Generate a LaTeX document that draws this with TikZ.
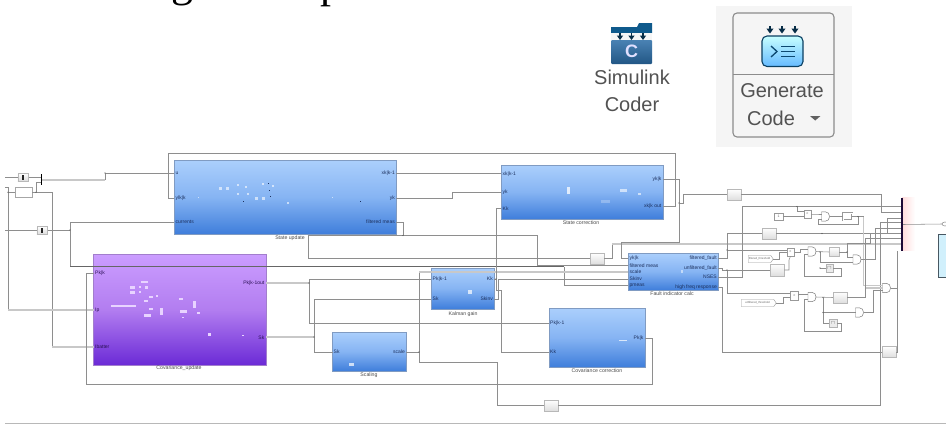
\documentclass[tikz,border=0pt]{standalone}
\usepackage{fontspec}
\setmainfont{Liberation Sans}
\newfontfamily\titlefont{Liberation Serif}
\usetikzlibrary{shapes.symbols,shapes.geometric}
\definecolor{wirec}{HTML}{8E8E8E}
\definecolor{busc}{HTML}{C8C8C8}
\definecolor{navyt}{HTML}{1C2F5C}
\definecolor{blueT}{HTML}{ABCFFC}
\definecolor{blueM}{HTML}{86B4F3}
\definecolor{blueB}{HTML}{3F7EDB}
\definecolor{purpT}{HTML}{CB9DFF}
\definecolor{purpM}{HTML}{B27DF0}
\definecolor{purpB}{HTML}{6B2AD6}
\definecolor{iconB}{HTML}{2A6CA6}
\definecolor{iconD}{HTML}{0F5A8C}
\tikzset{
  wire/.style={draw=wirec,line width=0.55pt},
  bus/.style={draw=busc,line width=1.3pt},
  bblock/.style={rectangle,draw=black!30!blueB!60,line width=0.7pt,top color=blueT,bottom color=blueB,middle color=blueM,inner sep=0pt},
  pblock/.style={rectangle,draw=purpT!80!black,line width=0.5pt,top color=purpT,bottom color=purpB,middle color=purpM,inner sep=0pt},
  captxt/.style={font=\fontsize{5.2}{6}\selectfont,text=black!70,inner sep=0pt},
  pl/.style={anchor=west,font=\fontsize{5}{6}\selectfont,text=navyt,inner sep=0pt},
  pr/.style={anchor=east,font=\fontsize{5}{6}\selectfont,text=navyt,inner sep=0pt},
  gbox/.style={rectangle,draw=black!28,line width=0.5pt,top color=white,bottom color=black!13,inner sep=0pt},
  sbox/.style={rectangle,draw=black!40,line width=0.4pt,fill=white,inner sep=0pt,font=\fontsize{3.5}{4}\selectfont,text=black!60},
  gatebody/.style={draw=black!55,line width=0.45pt,fill=white},
  tagb/.style={signal,signal to=east,signal pointer angle=110,draw=black!40,line width=0.4pt,fill=white,inner sep=0pt,font=\fontsize{2.8}{3}\selectfont,text=black!60},
  icontext/.style={font=\fontsize{20}{22}\selectfont,text=black!68,inner sep=0pt},
}
% AND gate: name, centre x, centre y
\newcommand{\andgate}[3]{%
  \node[inner sep=0pt,minimum width=8pt,minimum height=9.5pt] (#1) at (#2,#3) {};
  \draw[gatebody] (#2-4,#3-4.7) -- (#2,#3-4.7) .. controls (#2+2.6,#3-4.7) and (#2+4,#3-2.5) .. (#2+4,#3) .. controls (#2+4,#3+2.5) and (#2+2.6,#3+4.7) .. (#2,#3+4.7) -- (#2-4,#3+4.7) -- cycle;
  \coordinate (#1-a) at (#2-4,#3-2.5);
  \coordinate (#1-m) at (#2-4,#3);
  \coordinate (#1-b) at (#2-4,#3+2.5);
  \coordinate (#1-o) at (#2+4,#3);
}
\begin{document}
\begin{tikzpicture}[x=1pt,y=-1pt]
\useasboundingbox (0,0) rectangle (946,424);
\clip (0,0) rectangle (946,424);
\fill[white] (0,0) rectangle (946,424);

% clipped title remnants
\node[anchor=base,inner sep=0pt,font=\titlefont\fontsize{44}{44}\selectfont] (tg) at (182,-3.5) {g};
\node[anchor=base,inner sep=0pt,font=\titlefont\fontsize{44}{44}\selectfont] (tp) at (331,-3) {p};

% Simulink Coder icon
\fill[iconD] (611,27) -- (637,27) -- (639,23) -- (652,23) -- (652,33) -- (611,33) -- cycle;
\fill[black!4] (611,33) rectangle (652,40);
\shade[top color=iconB!85,bottom color=iconB!80!black,rounded corners=1pt] (611,40) rectangle (652,64);
\foreach \ax in {620,631.5,643}{
  \fill[iconD!50!black] (\ax-0.9,33) rectangle (\ax+0.9,36);
  \fill[iconD!50!black] (\ax-3.2,35.5) -- (\ax+3.2,35.5) -- (\ax,40) -- cycle;
}
\node[font=\bfseries\fontsize{18}{18}\selectfont,text=white!88!blue,inner sep=0pt] (cc) at (631.5,51.5) {C};
\node[icontext] (simtxt) at (632,77) {Simulink};
\node[icontext] (codertxt) at (632,104) {Coder};

% Generate Code panel
\fill[black!4] (716,6) rectangle (852,147);
\draw[black!45,line width=1.1pt,rounded corners=4pt] (733,13) rectangle (834,137);
\draw[black!45,line width=1pt] (733,74.5) -- (834,74.5);
\foreach \ax in {770,782,795}{
  \fill[iconD!50!black] (\ax-1,26) rectangle (\ax+1,30);
  \fill[iconD!50!black] (\ax-3.6,28.5) -- (\ax+3.6,28.5) -- (\ax,33.5) -- cycle;
}
\shade[top color=cyan!22,bottom color=cyan!55!blue!60,draw=iconD!70!black,line width=1.1pt,rounded corners=5pt] (762,36) rectangle (803,66.5);
\draw[iconD!80!black,line width=1.3pt] (771,46) -- (777,51.5) -- (771,57);
\draw[iconD!80!black,line width=0.9pt] (781,46.5) -- (795,46.5) (781,51.5) -- (795,51.5) (781,56.5) -- (795,56.5);
\node[icontext] (gentxt) at (782,91) {Generate};
\node[icontext] (codetxt) at (771,118) {Code};
\fill[black!62] (810,116) -- (820.5,116) -- (815.2,120.5) -- cycle;

% main blocks
\node[bblock,minimum width=222pt,minimum height=74pt] (su) at (285,197) {};
\node[bblock,minimum width=162pt,minimum height=54pt] (sc) at (582,192) {};
\node[pblock,minimum width=172.5pt,minimum height=110.5pt] (cu) at (179.75,309.75) {};
\node[bblock,minimum width=63pt,minimum height=41pt] (kg) at (462.5,288.5) {};
\node[bblock,minimum width=73.5pt,minimum height=39pt] (sl) at (369.25,351.5) {};
\node[bblock,minimum width=96pt,minimum height=59pt] (cc2) at (597,337.5) {};
\node[bblock,minimum width=90pt,minimum height=37pt] (fi) at (673,271.5) {};

% specks
\foreach \px/\py/\ps in {219/187/3,226/187/3,237/184/1.5,245/186/1.5,237/193/2,247/193/2,255/197/3,262/197/3,262/183/2,272/185/2,287/202/2,198/197/1,332/197/1}
  \fill[white,opacity=.6] (\px,\py) rectangle ++(\ps,\ps);
\foreach \px/\py/\ps in {268/183/.8,269/190/.8,270/196/.8,243/201/.8,360/201/.8}
  \fill[navyt] (\px,\py) rectangle ++(\ps,\ps);
\fill[white,opacity=.75] (567,187) rectangle (570,194);
\fill[white,opacity=.6] (620,189) rectangle (627,192);
\fill[white,opacity=.6] (638,193) rectangle (641,195);
\fill[white,opacity=.25] (601,200) rectangle (610,203);
\foreach \px/\py/\pw/\ph in {111/305/25/1.5,141/281/7/2,130/286/5/3,130/291/5/3,139/286/2/2,139/291/2/2,145/286/3/3,144/300/4/2,149/296/4/2,156/295/2/2,149/308/4/2,160/308/3/7,144/314/7/3,179/298/4/2,193/301/3/7,180/310/7/3,197/312/3/2,182/317/2/1,208/333/3/3,242/335/2/1}
  \fill[white!55!purpT] (\px,\py) rectangle ++(\pw,\ph);
\fill[white,opacity=.7] (349,363) rectangle (354,366);
\fill[white,opacity=.7] (468,290) rectangle (472,294);
\fill[white,opacity=.7] (619,340) rectangle (627,341);
\fill[white,opacity=.5] (681,270) rectangle (683,273);

% captions
\node[captxt] (csu) at (290,238) {State update};
\node[captxt] (csc) at (581,222.5) {State correction};
\node[captxt] (ccu) at (179,368) {Covariance\_update};
\node[captxt] (ckg) at (463,314) {Kalman gain};
\node[captxt] (csl) at (369,375.5) {Scaling};
\node[captxt] (ccc) at (597,371) {Covariance correction};
\node[captxt] (cfi) at (672,294) {Fault indicator calc};

% port labels
\node[pl] (l1) at (175.5,173.5) {u};
\node[pl] (l2) at (175.5,198) {ylk|k};
\node[pl] (l3) at (175.5,222) {currents};
\node[pr] (l4) at (395,173.5) {xk|k-1};
\node[pr] (l5) at (395,198) {yk};
\node[pr] (l6) at (395,222) {filtered meas};
\node[pl] (l7) at (502.5,174.5) {xk|k-1};
\node[pl] (l8) at (502.5,192) {yk};
\node[pl] (l9) at (502.5,208.5) {Kk};
\node[pr] (l10) at (661.5,179) {yk|k};
\node[pr] (l11) at (661.5,206) {xk|k out};
\node[pl,text=purpB!40!black] (l12) at (95,273.5) {Pk|k};
\node[pl,text=purpB!40!black] (l13) at (95,310.5) {Ip};
\node[pl,text=purpB!40!black] (l14) at (95,347) {Ibatter};
\node[pr,text=purpB!40!black] (l15) at (264.5,283) {Pk|k-1out};
\node[pr,text=purpB!40!black] (l16) at (264.5,337.5) {Sk};
\node[pl] (l17) at (432.5,279) {Pk|k-1};
\node[pl] (l18) at (432.5,299) {Sk};
\node[pr] (l19) at (493,279) {Kk};
\node[pr] (l20) at (493,299) {Skinv};
\node[pl] (l21) at (333.5,352) {Sk};
\node[pr] (l22) at (405,352) {scale};
\node[pl] (l23) at (550,323) {Pk|k-1};
\node[pl] (l24) at (550,352) {Kk};
\node[pr] (l25) at (643.5,338) {Pk|k};
\node[pl] (l26) at (629.5,258.5) {yk|k};
\node[pl] (l27) at (629.5,265.5) {filtered meas};
\node[pl] (l28) at (629.5,272) {scale};
\node[pl] (l29) at (629.5,279) {Skinv};
\node[pl] (l30) at (629.5,285.5) {pmeas};
\node[pr] (l31) at (717,258.5) {filtered\_fault};
\node[pr] (l32) at (717,268) {unfiltered\_fault};
\node[pr] (l33) at (717,277) {NSES};
\node[pr] (l34) at (717,287) {high freq response};

% port coordinates
\coordinate (su-u) at (174,173);
\coordinate (su-y) at (174,198);
\coordinate (su-c) at (174,222);
\coordinate (su-x) at (396,173);
\coordinate (su-k) at (396,198);
\coordinate (su-f) at (396,222);
\coordinate (sc-x) at (501,173);
\coordinate (sc-y) at (501,192);
\coordinate (sc-k) at (501,208);
\coordinate (sc-o) at (663,179);
\coordinate (sc-q) at (663,206);
\coordinate (cu-p) at (93.5,273);
\coordinate (cu-i) at (93.5,310);
\coordinate (cu-b) at (93.5,347);
\coordinate (cu-o) at (266,283);
\coordinate (cu-s) at (266,337);
\coordinate (kg-p) at (431,279);
\coordinate (kg-s) at (431,299);
\coordinate (kg-k) at (494,279);
\coordinate (kg-i) at (494,299);
\coordinate (sl-s) at (332.5,352);
\coordinate (sl-o) at (406,352);
\coordinate (cc-p) at (549,323);
\coordinate (cc-k) at (549,352);
\coordinate (cc-o) at (645,338);
\coordinate (fi-y) at (628,258);
\coordinate (fi-f) at (628,265);
\coordinate (fi-s) at (628,272);
\coordinate (fi-i) at (628,279);
\coordinate (fi-m) at (628,285);
\coordinate (fi-1) at (718,258);
\coordinate (fi-2) at (718,268);
\coordinate (fi-3) at (718,277);
\coordinate (fi-4) at (718,287);
\coordinate (inA) at (5,177);
\coordinate (inB) at (5,230);
\coordinate (inC) at (5,187);

% small blocks at the left
\node[gbox,minimum width=10.5pt,minimum height=8pt] (g1) at (23,177) {};
\node[gbox,minimum width=10.5pt,minimum height=8pt] (g2) at (42,230) {};
\fill[black!85] (22,174.5) rectangle (24,179.5);
\fill[black!85] (41,227.5) rectangle (43,232.5);
\node[draw=black!35,fill=white,line width=.5pt,inner sep=0pt,minimum width=17pt,minimum height=10.5pt] (b0) at (23.5,192.3) {};
\node[fill=black,inner sep=0pt,minimum width=1pt,minimum height=11pt] (m1) at (41.5,179) {};

% grey boxes
\node[gbox,minimum width=14pt,minimum height=11pt] (b1) at (597,258.5) {};
\node[gbox,minimum width=14pt,minimum height=11pt] (b2) at (551,405.5) {};
\node[gbox,minimum width=14pt,minimum height=11pt] (b3) at (734,194.5) {};
\node[gbox,minimum width=14pt,minimum height=11pt] (b4) at (769,233.5) {};
\node[gbox,minimum width=14pt,minimum height=12pt] (b5) at (777,270) {};
\node[gbox,minimum width=10pt,minimum height=9pt] (b6) at (834,252) {};
\node[gbox,minimum width=14pt,minimum height=11pt] (b7) at (840,297.5) {};
\node[gbox,minimum width=14pt,minimum height=11pt] (b8) at (889,352) {};

% logic
\node[sbox,minimum width=9pt,minimum height=7pt] (k1) at (778.5,216.5) {1};
\node[sbox,minimum width=7pt,minimum height=8pt] (n1) at (807.5,214) {c};
\node[sbox,minimum width=7pt,minimum height=8pt] (n2) at (790.5,252) {c};
\node[sbox,minimum width=8pt,minimum height=9pt] (n3) at (794.5,295.5) {c};
\node[sbox,minimum width=9pt,minimum height=7pt,double,double distance=.5pt] (d1) at (847.5,216.5) {};
\node[sbox,minimum width=7.5pt,minimum height=8pt,draw=black!30,fill=black!8] (d2) at (829.5,268) {$\sqcap$};
\node[sbox,minimum width=8pt,minimum height=8pt,draw=black!30,fill=black!8] (d3) at (833,323) {$\sqcap$};
\andgate{a1}{825.5}{216.5}
\andgate{a2}{812}{251.5}
\andgate{a3}{857}{259.5}
\andgate{a4}{812}{297}
\andgate{a5}{859.5}{312.5}
\andgate{a6}{886.5}{288}
\node[tagb,minimum width=25pt,minimum height=7pt] (t1) at (759.5,259) {filtered\_threshold};
\node[tagb,minimum width=35pt,minimum height=7pt] (t2) at (757.5,303) {unfiltered\_threshold};

% mux at the right, with its glow
\shade[left color=red!14,right color=white] (902,197) rectangle (915,250);
\node[fill=black!75!purpB,inner sep=0pt,minimum width=1.6pt,minimum height=53pt] (m2) at (902,224.5) {};
\node[ellipse,draw=black!45,fill=white,line width=.5pt,inner sep=0pt,minimum width=6pt,minimum height=4pt] (outp) at (945,224) {};
\node[rectangle,draw=black!70!cyan,fill=cyan!18,line width=1.4pt,inner sep=0pt,minimum width=16pt,minimum height=43pt,anchor=north west] (outb) at (938,234) {};

% wires: left part
\draw[wire] (inA) -- (g1.west);
\draw[wire] (g1.east) -- (m1.west |- g1.east);
\draw[bus] (m1.east |- 0,180) -- (105,180);
\draw[wire] (105,180) -- (105,173) -- (su-u);
\draw[wire] (b0.east) -- (36,192.3) -- (36,182) -- (m1.west |- 0,182);
\draw[wire] (36,192.3) -- (52,192.3) -- (52,347);
\draw[bus] (52,347) -- (cu-b);
\draw[wire] (b0.west) -- (8,192.3);
\draw[wire] (inC) -- (8,187) -- (8,310);
\draw[bus] (8,310) -- (cu-i);
\draw[wire] (inB) -- (g2.west);
\draw[wire] (g2.east) -- (70,230);
\draw[wire] (70,266.5) -- (70,222) -- (su-c);
\draw[wire,draw=black!60] (70,266.5) -- (564,266.5);
\draw[wire] (564,266.5) -- (564,285) -- (fi-m);
\draw[wire] (sc-q) -- (675,206) -- (675,153) -- (168,153) -- (168,198) -- (su-y);
\draw[wire] (su-x) -- (sc-x);
\draw[wire] (su-k) -- (452,198) -- (452,192) -- (sc-y);
\draw[wire] (su-f) -- (403,222) -- (403,235.5);
\draw[wire] (308,235.5) -- (537,235.5) -- (537,265) -- (fi-f);
\draw[wire] (308,235.5) -- (308,258.5) -- (b1.west);
\draw[wire] (b1.east) -- (612,258.5) -- (612,244);
\draw[bus] (612,244) -- (m2.west |- 0,244);
% wires: covariance, scaling, gain
\draw[bus] (cu-o) -- (309,283);
\draw[wire] (309,279) -- (309,323);
\draw[wire] (309,279) -- (kg-p);
\draw[wire] (309,323) -- (cc-p);
\draw[bus] (cu-s) -- (314,337);
\draw[wire] (314,299) -- (314,352) -- (sl-s);
\draw[wire] (314,299) -- (kg-s);
\draw[wire] (sl-o) -- (419,352);
\draw[wire] (419,272) -- (419,362);
\draw[bus] (419,272) -- (fi-s);
\draw[wire] (419,362) -- (497,362) -- (497,405.5) -- (b2.west);
\draw[wire] (b2.east) -- (880,405.5) -- (880,222) -- (m2.west |- 0,222);
\draw[wire] (cu-p) -- (86,273) -- (86,384.5) -- (652,384.5) -- (652,338) -- (cc-o);
\draw[wire] (kg-k) -- (496,279) -- (496,208) -- (sc-k);
\draw[wire] (496,279) -- (496,290) -- (501,290) -- (501,352) -- (cc-k);
\draw[wire] (kg-i) -- (498,299) -- (498,279);
\draw[wire] (498,279) -- (fi-i);
% wires: state correction, fault block
\draw[wire] (sc-o) -- (679,179) -- (679,242) -- (621.5,242) -- (621.5,258) -- (fi-y);
\draw[wire] (679,203) -- (683,203) -- (683,194.5) -- (b3.west);
\draw[wire] (b3.east) -- (881,194.5) -- (881,212) -- (m2.west |- 0,212);
\draw[wire] (fi-1) -- (727,258) -- (727,233.5) -- (b4.west);
\draw[wire] (727,250) -- (n2.west |- 0,250);
\draw[wire] (b4.east) -- (887,233.5) -- (887,218) -- (m2.west |- 0,218);
\draw[wire] (fi-2) -- (722,268) -- (722,270) -- (727,270) -- (727,293) -- (n3.west |- 0,293);
\draw[wire] (727,270) -- (b5.west);
\draw[wire] (fi-3) -- (742,277) -- (742,206.5) -- (m2.west |- 0,206.5);
\draw[wire] (fi-4) -- (722,287) -- (722,352) -- (b8.west);
\draw[wire] (b8.east) -- (897,352) -- (897,251);
\draw[wire] (a6-o) -- (897,288);
\draw[wire] (m2.east) -- (outp.west);
% wires: logic rows
\draw[wire] (k1.east) -- (n1.west |- k1.east);
\draw[wire] (797,206.5) -- (797,211) -- (n1.west |- 0,211);
\draw[wire] (n1.east) -- (816,214) |- (a1-a);
\draw[wire] (a1-o) -- (d1.west);
\draw[wire] (d1.east) -- (863.5,216.5);
\draw[wire] (858,216.5) -- (858,224.5) -- (818,224.5) |- (a1-b);
\draw[bus] (863.5,216.5) |- (a6-a);
\draw[wire] (t1.east) -- (779,259) |- (n2.west);
\draw[wire] (b5.east) -- (789,270) -- (789,260) -- (n2.south);
\draw[wire] (n2.east) -- (800,252) |- (a2-a);
\draw[wire] (a2-o) -- (b6.west);
\draw[wire] (820,252) |- (a3-b);
\draw[wire] (820,268) -- (d2.west);
\draw[wire] (d2.east) -- (841,268) -- (841,276) -- (804,276) |- (a2-b);
\draw[wire] (b6.east) -- (847,252) |- (a3-a);
\draw[wire] (847,252) -- (847,243) -- (870,243) -- (870,233) -- (m2.west |- 0,233);
\draw[wire] (a3-o) -- (875,259.5) -- (875,228) -- (m2.west |- 0,228);
\draw[wire] (t2.east) -- (783,303) -- (783,297.5) -- (n3.west |- 0,297.5);
\draw[wire] (n3.east) |- (a4-a);
\draw[wire] (a4-o) -- (b7.west);
\draw[wire] (b7.east) -- (865.5,297.5) -- (865.5,238) -- (m2.west |- 0,238);
\draw[bus] (865.5,288) -- (a6-m);
\draw[wire] (823,297.5) -- (823,323) -- (d3.west);
\draw[wire] (823,312.5) -- (a5-m);
\draw[wire] (d3.east) -- (841,323) -- (841,331) -- (804,331) |- (a4-b);
\draw[wire] (a5-o) -- (873,312.5) |- (a6-b);

% junction dots
\foreach \jx/\jy in {70/230,105/173,36/192.3,8/192.3,309/283,314/337,419/352,403/235.5,679/203,727/250,727/270,797/206.5,820/252,820/268,823/297.5,823/312.5,858/216.5,847/252,822/233.5,496/279}
  \fill[black!70] (\jx,\jy) circle (0.6pt);

% bottom rule
\draw[black!28,line width=0.9pt] (5,423) -- (946,423);
\end{tikzpicture}
\end{document}
